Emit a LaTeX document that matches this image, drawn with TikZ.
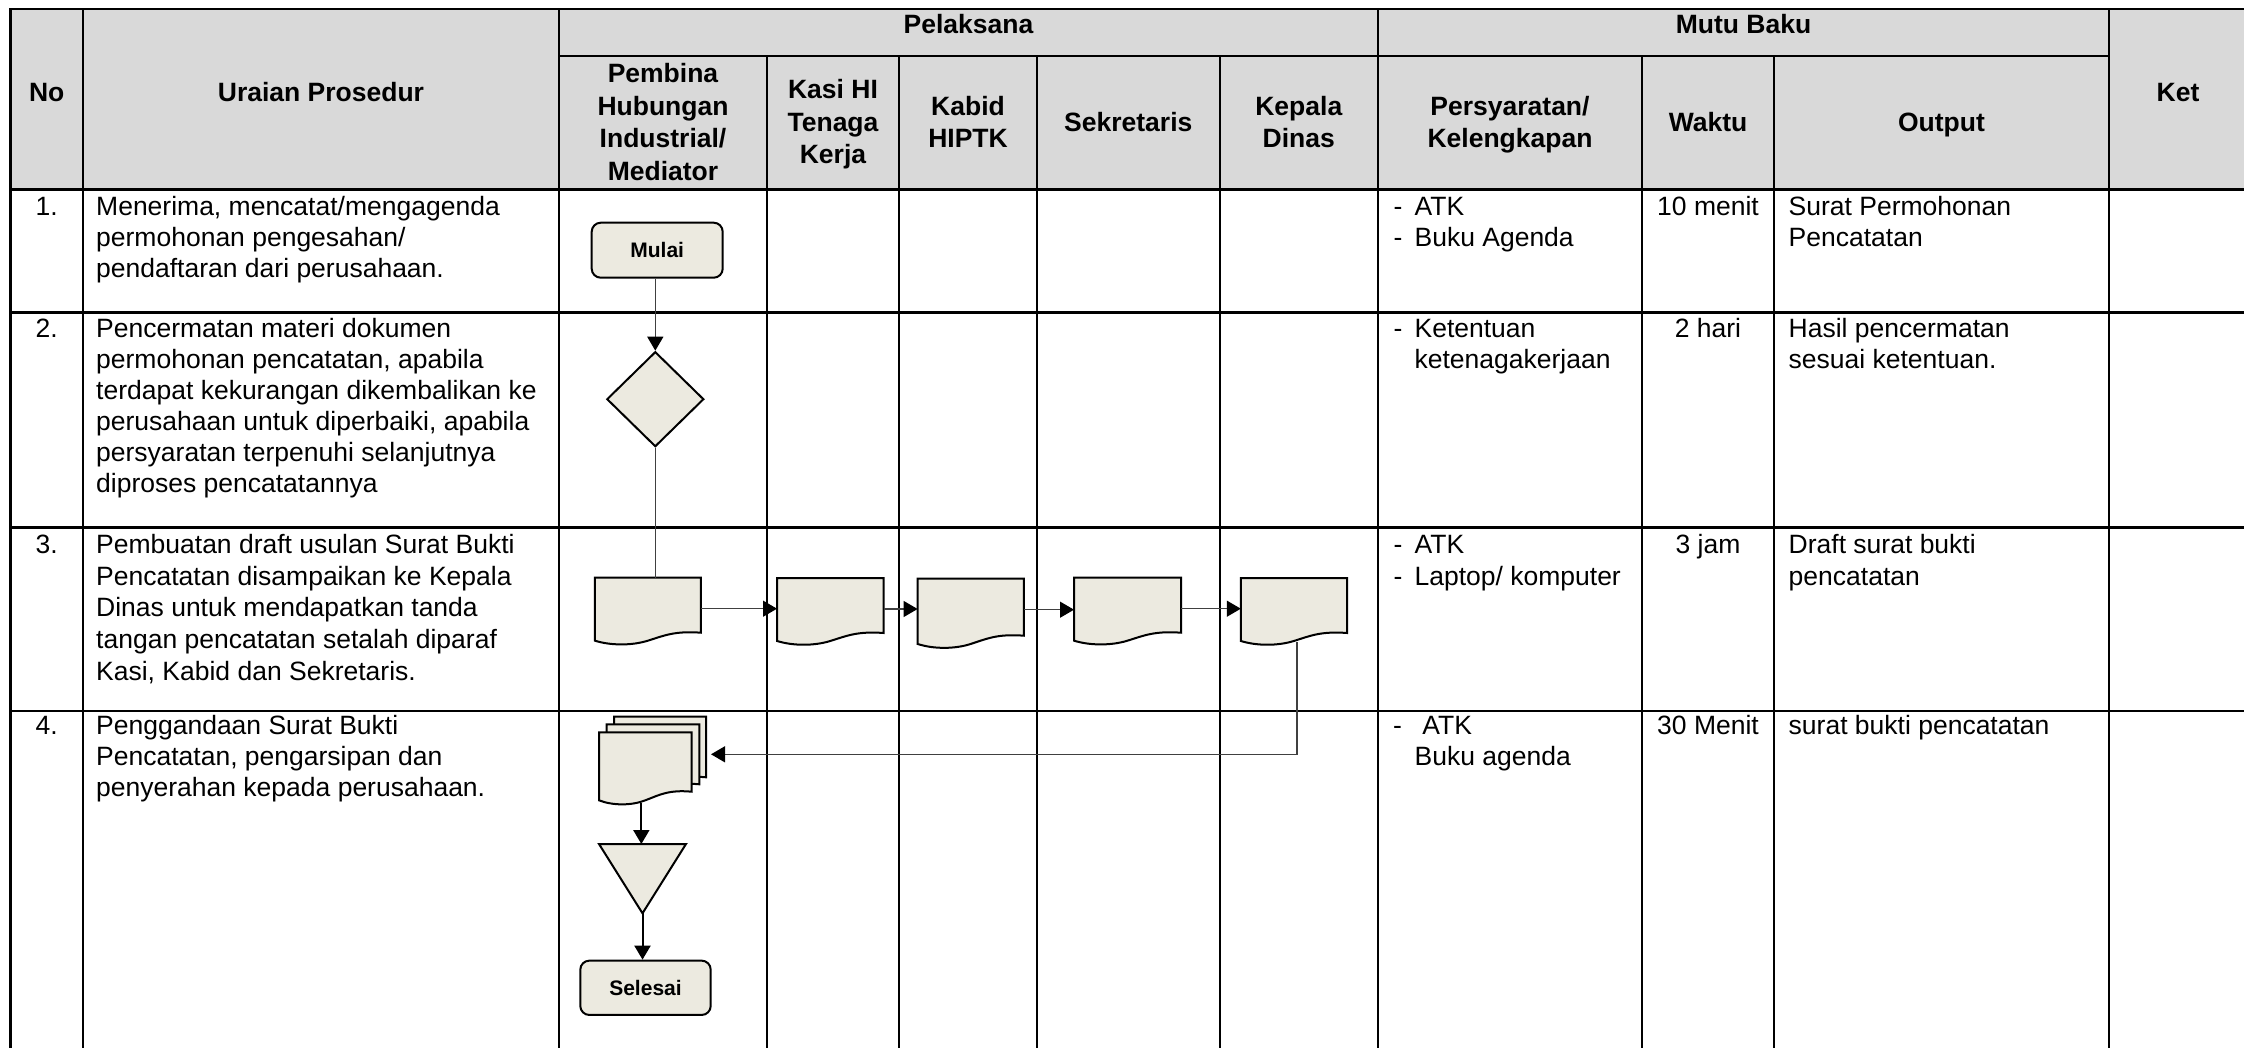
\documentclass[tikz,border=0pt]{standalone}
\usepackage{fontspec}
\setmainfont{Liberation Sans}
\usetikzlibrary{arrows.meta,shapes.geometric,calc}
\definecolor{hdrgray}{RGB}{217,217,217}
\definecolor{shapefill}{RGB}{236,234,224}
\definecolor{conngray}{RGB}{64,64,64}
\newcommand\bodyfs{\fontsize{26.5}{31}\selectfont}
\newcommand\hdrfs{\fontsize{26.5}{32.5}\selectfont\bfseries}
\newcommand\shpfs{\fontsize{21}{25}\selectfont\bfseries}
\tikzset{
 tline/.style={line width=2.2pt, draw=black, line cap=rect},
 shp/.style={draw=black, line width=2pt, fill=shapefill},
 ghost/.style={inner sep=0pt, outer sep=0pt},
 conn/.style={line width=1.3pt, draw=conngray, -{Triangle[length=14pt,width=16pt,color=black]}},
 plainconn/.style={line width=1.3pt, draw=conngray},
 connb/.style={line width=2pt, draw=black, -{Triangle[length=14pt,width=16pt]}},
 hdr/.style={inner sep=0pt, font=\hdrfs, anchor=base},
 cell/.style={inner sep=0pt, font=\bodyfs, anchor=base west},
 ccell/.style={inner sep=0pt, font=\bodyfs, anchor=base},
 term/.style={shp, rounded corners=9pt, minimum width=131pt, minimum height=55pt, font=\shpfs, inner sep=0pt},
}
% name, x, y, w, h (right side height), node height
\newcommand\docsh[6]{%
 \draw[shp] (#2,#3) -- ({#2+#4},#3) -- ({#2+#4},{#3+#5})
   .. controls ({#2+0.75*#4},{#3+0.964*#5}) and ({#2+0.65*#4},{#3+1.055*#5}) .. ({#2+0.5*#4},{#3+1.145*#5})
   .. controls ({#2+0.35*#4},{#3+1.236*#5}) and ({#2+0.15*#4},{#3+1.236*#5}) .. (#2,{#3+1.145*#5}) -- cycle;
 \node[ghost, minimum width=#4pt, minimum height=#6pt, anchor=north west] (#1) at (#2,#3) {};}
\begin{document}
\begin{tikzpicture}[x=1pt,y=-1pt]
\useasboundingbox (0,0) rectangle (2244,1048);
\fill[white] (0,0) rectangle (2244,1048);
% header background
\fill[hdrgray] (10.5,9) rectangle (2250,189.5);
% table lines
\draw[tline] (10.5,1050) -- (10.5,9) -- (2250,9);
\draw[tline] (559,55.7) -- (2109,55.7);
\draw[tline] (10.5,189.5) -- (2250,189.5);
\draw[tline] (10.5,312.5) -- (2250,312.5);
\draw[tline] (10.5,527.5) -- (2250,527.5);
\draw[tline] (10.5,711) -- (2250,711);
\foreach \xx in {83,559,1378,2109} {\draw[tline] (\xx,9) -- (\xx,1050);}
\foreach \xx in {767,899,1037,1219.6,1642,1774} {\draw[tline] (\xx,55.7) -- (\xx,1050);}
% header texts
\node[hdr] (hNo) at (46.75,102) {No};
\node[hdr] (hUraian) at (321,102) {Uraian Prosedur};
\node[hdr] (hPel) at (968.5,34) {Pelaksana};
\node[hdr] (hMutu) at (1743.5,34) {Mutu Baku};
\node[hdr] (hKet) at (2178,102) {Ket};
\node[hdr] (hPembina) at (663,82.75) {\parbox[t]{200pt}{\centering Pembina\\ Hubungan\\ Industrial/\\ Mediator}};
\node[hdr] (hKasi) at (833,99) {\parbox[t]{128pt}{\centering Kasi HI\\ Tenaga\\ Kerja}};
\node[hdr] (hKabid) at (968,115.25) {\parbox[t]{134pt}{\centering Kabid\\ HIPTK}};
\node[hdr] (hSek) at (1128.3,131.5) {Sekretaris};
\node[hdr] (hKepala) at (1298.8,115.25) {\parbox[t]{150pt}{\centering Kepala\\ Dinas}};
\node[hdr] (hPers) at (1510,115.25) {\parbox[t]{255pt}{\centering Persyaratan/\\ Kelengkapan}};
\node[hdr] (hWaktu) at (1708,131.5) {Waktu};
\node[hdr] (hOutput) at (1941.5,131.5) {Output};
% row 1
\node[ccell] (n1) at (46.75,216) {1.};
\node[cell] (u1) at (96,216) {\parbox[t]{455pt}{\raggedright Menerima, mencatat/mengagenda\\ permohonan pengesahan/\\ pendaftaran dari perusahaan.}};
\node[cell] (p1) at (1393.5,216) {\parbox[t]{245pt}{\raggedright \makebox[20.9pt][l]{-}ATK\\ \makebox[20.9pt][l]{-}Buku Agenda}};
\node[ccell] (w1) at (1708,216) {10 menit};
\node[cell] (o1) at (1788.5,216) {\parbox[t]{315pt}{\raggedright Surat Permohonan\\ Pencatatan}};
% row 2
\node[ccell] (n2) at (46.75,337.7) {2.};
\node[cell] (u2) at (96,337.7) {\parbox[t]{455pt}{\raggedright Pencermatan materi dokumen\\ permohonan pencatatan, apabila\\ terdapat kekurangan dikembalikan ke\\ perusahaan untuk diperbaiki, apabila\\ persyaratan terpenuhi selanjutnya\\ diproses pencatatannya}};
\node[cell] (p2) at (1393.5,337.7) {\parbox[t]{245pt}{\raggedright \makebox[20.9pt][l]{-}Ketentuan\\ \hspace*{20.9pt}ketenagakerjaan}};
\node[ccell] (w2) at (1708,337.7) {2 hari};
\node[cell] (o2) at (1788.5,337.7) {\parbox[t]{315pt}{\raggedright Hasil pencermatan\\ sesuai ketentuan.}};
% row 3
\node[ccell] (n3) at (46.75,553.3) {3.};
\node[cell] (u3) at (96,553.3) {\parbox[t]{455pt}{\fontsize{26.5}{31.7}\selectfont\raggedright Pembuatan draft usulan Surat Bukti\\ Pencatatan disampaikan ke Kepala\\ Dinas untuk mendapatkan tanda\\ tangan pencatatan setalah diparaf\\ Kasi, Kabid dan Sekretaris.}};
\node[cell] (p3) at (1393.5,553.3) {\parbox[t]{245pt}{\fontsize{26.5}{31.7}\selectfont\raggedright \makebox[20.9pt][l]{-}ATK\\ \makebox[20.9pt][l]{-}Laptop/ komputer}};
\node[ccell] (w3) at (1708,553.3) {3 jam};
\node[cell] (o3) at (1788.5,553.3) {\parbox[t]{315pt}{\fontsize{26.5}{31.7}\selectfont\raggedright Draft surat bukti\\ pencatatan}};
% row 4
\node[ccell] (n4) at (46.75,734) {4.};
\node[cell] (u4) at (96,734) {\parbox[t]{455pt}{\raggedright Penggandaan Surat Bukti\\ Pencatatan, pengarsipan dan\\ penyerahan kepada perusahaan.}};
\node[cell] (p4) at (1393,734) {\parbox[t]{245pt}{\raggedright \makebox[29.3pt][l]{-}ATK\\ \hspace*{21.5pt}Buku agenda}};
\node[ccell] (w4) at (1708,734) {30 Menit};
\node[cell] (o4) at (1788.5,734) {\parbox[t]{315pt}{\raggedright surat bukti pencatatan}};
% flowchart
\node[term] (mulai) at (657.2,250.2) {Mulai};
\node[shp, diamond, minimum width=97pt, minimum height=95pt, inner sep=0pt] (dia) at (655.3,399.2) {};
\docsh{d1}{594.9}{577.7}{106}{55}{62}
\docsh{d2}{777}{578}{106.6}{55}{62}
\docsh{d3}{917.6}{578.7}{106.2}{57}{62}
\docsh{d4}{1074}{577.7}{107}{55}{62}
\docsh{d5}{1240.8}{578}{106.2}{55}{64}
\docsh{md3}{614}{716.7}{92}{60.6}{75.2}
\docsh{md2}{606.7}{724.3}{92.6}{60}{68}
\docsh{md1}{599}{732.3}{92.7}{59.4}{70.7}
\node[ghost, minimum width=87pt, minimum height=69.3pt, anchor=north] (tri) at (642.5,844) {};
\draw[shp, line join=miter] (tri.north west) -- (tri.north east) -- (tri.south) -- cycle;
\node[term, minimum width=130.4pt, minimum height=54.3pt] (selesai) at (645.5,987.8) {Selesai};
% connectors
\draw[conn] (dia.north |- mulai.south) -- (dia.north);
\draw[plainconn] (dia.south) -- (dia.south |- d1.north);
\draw[conn] (d1.east) -- (d1.east -| d2.west);
\draw[conn] (d2.east) -- (d2.east -| d3.west);
\draw[conn] (d3.east) -- (d3.east -| d4.west);
\draw[conn] (d4.east) -- (d4.east -| d5.west);
\draw[conn] ([xshift=3pt]d5.south) |- ([xshift=5pt]md3.east);
\draw[connb] ([xshift=-4pt]md1.south) -- ([xshift=-4pt]md1.south |- tri.north);
\draw[connb] (tri.south) -- (tri.south |- selesai.north);
\end{tikzpicture}
\end{document}
